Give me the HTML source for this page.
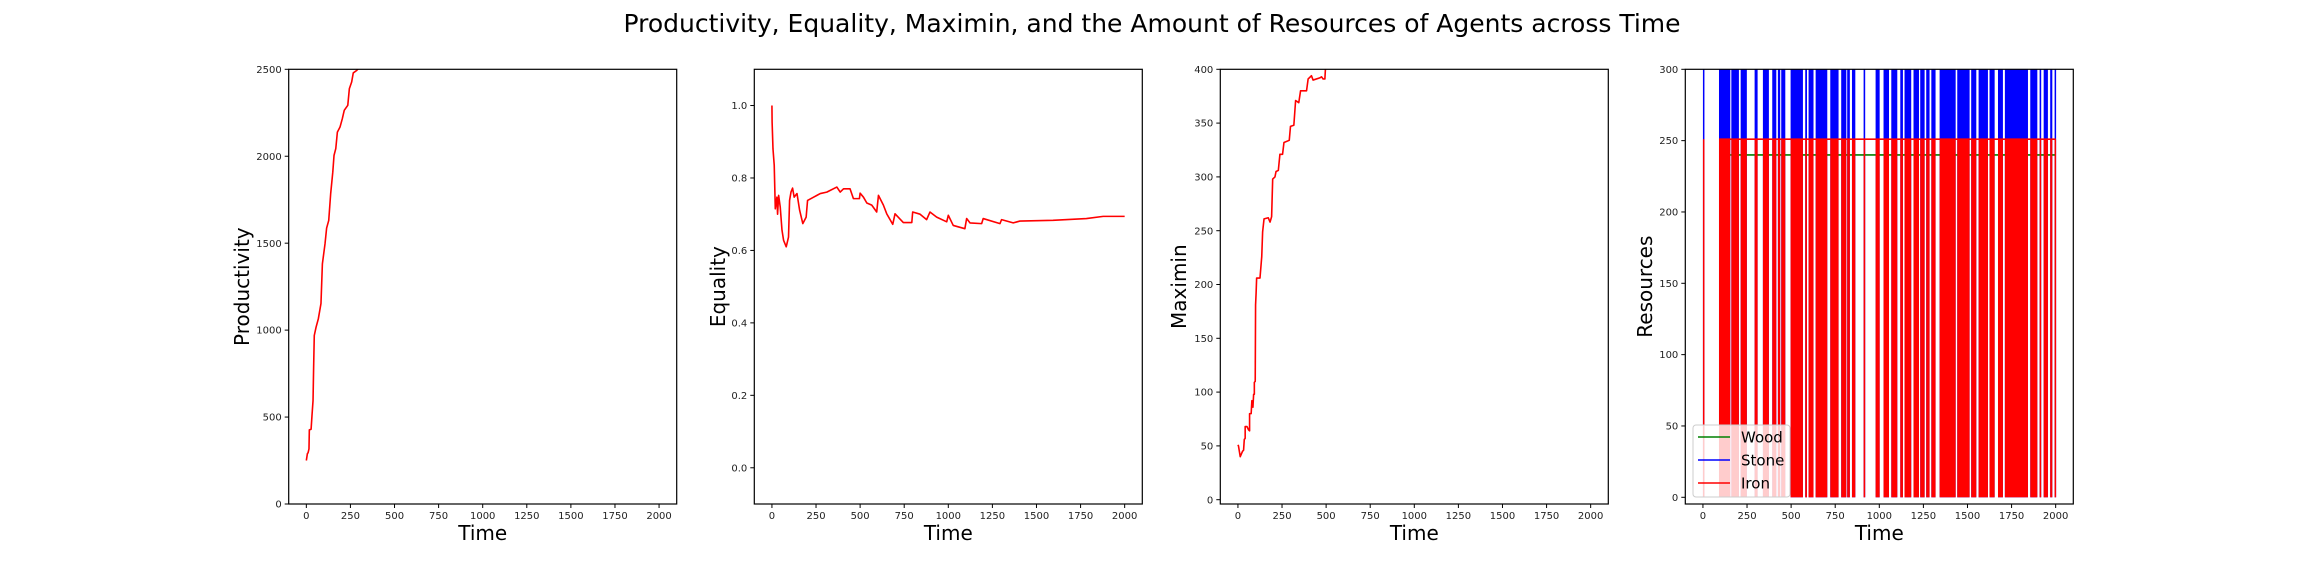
<!DOCTYPE html>
<html><head><meta charset="utf-8"><style>
body{margin:0;background:#fff}
svg{display:block;font-family:"DejaVu Sans","Liberation Sans",sans-serif}
</style></head><body>
<svg id="fig" width="2304" height="576" viewBox="0 0 2304 576" xmlns="http://www.w3.org/2000/svg">
<rect width="2304" height="576" fill="#fff"/>
<text x="1152" y="32" text-anchor="middle" font-size="25" fill="#000">Productivity, Equality, Maximin, and the Amount of Resources of Agents across Time</text>
</svg>
<script>
const xTicks = [0,250,500,750,1000,1250,1500,1750,2000];
const prodTime = [0,6,10,15,17,27,32,38,41,45,55,68,83,91,106,115,127,138,150,157,167,176,191,204,215,235,244,257,266,286,300];
const prodValue = [250,290,295,317,426,430,508,595,767,969,1016,1065,1153,1381,1497,1587,1631,1785,1909,2005,2044,2139,2168,2216,2264,2293,2389,2427,2479,2494,2510];
const prodYTicks = [0,500,1000,1500,2000,2500];
const eqTime = [0,1,6,13,19,28,32,38,47,57,66,81,94,100,108,117,126,142,157,175,194,202,236,255,274,311,368,387,406,443,462,496,500,519,538,566,594,604,632,651,685,698,745,793,798,840,877,896,934,991,1000,1028,1094,1104,1123,1189,1198,1293,1302,1368,1406,1594,1783,1878,2000];
const eqValue = [1.0,0.954,0.88,0.835,0.715,0.747,0.70,0.752,0.72,0.656,0.628,0.61,0.637,0.738,0.761,0.772,0.747,0.757,0.711,0.674,0.692,0.738,0.747,0.752,0.757,0.761,0.775,0.761,0.77,0.77,0.743,0.743,0.758,0.747,0.731,0.725,0.706,0.752,0.725,0.701,0.672,0.701,0.677,0.677,0.706,0.70,0.685,0.706,0.692,0.679,0.697,0.669,0.66,0.688,0.676,0.674,0.688,0.674,0.685,0.676,0.681,0.683,0.688,0.694,0.694];
const eqYTicks = [0.0,0.2,0.4,0.6,0.8,1.0];
const maxTime = [0,3,13,26,32,36,41,41,51,60,66,66,75,79,85,89,93,93,98,100,103,106,125,135,140,148,172,182,191,197,210,216,229,238,253,261,291,298,317,327,345,355,389,398,417,426,464,474,483,493,496,498];
const maxValue = [51,50,40,45,46,56,57,68,68,65,64,80,80,92,86,98,98,109,110,181,192,206,206,226,249,261,262,258,263,298,300,305,306,321,321,332,334,347,348,371,369,380,380,391,394,390,392,393,391,391,400,406];
const maxYTicks = [0,50,100,150,200,250,300,350,400];
const resYTicks = [0,50,100,150,200,250,300];
const burstStart = [0,91,161,214,293,340,393,425,444,497,580,599,639,722,784,818,845,911,979,1024,1068,1119,1143,1194,1232,1266,1295,1342,1442,1521,1563,1625,1673,1712,1856,1909,1932,1969,1994];
const burstEnd = [2,155,204,249,310,374,416,438,467,567,590,627,705,769,813,833,864,920,1002,1055,1102,1134,1181,1225,1257,1285,1319,1433,1512,1550,1616,1654,1701,1843,1896,1918,1956,1981,2000];
const ironLevel = 251;
const woodLevel = 240;
const stoneHigh = 320;
const woodStart = 155;
const ironStart = 91;

const NS = 'http://www.w3.org/2000/svg';
const svg = document.getElementById('fig');
function mk(tag, attrs, parent){
  const e = document.createElementNS(NS, tag);
  for (const k in attrs) e.setAttribute(k, attrs[k]);
  (parent||svg).appendChild(e);
  return e;
}
const TOP = 69.3, BOT = 504, W = 388;
function makeAxes(idx, left, ymin, ymax, yTicks, yFmt, ylabel, ylabelX){
  const g = mk('g', {});
  
  
  const sx = t => left + (t + 100) / 2200 * W;
  const sy = v => BOT - (v - ymin) / (ymax - ymin) * (BOT - TOP);
  const cid = 'clip' + idx;
  const cp = mk('clipPath', {id: cid}, g);
  mk('rect', {x: left, y: TOP, width: W, height: BOT - TOP}, cp);
  const plot = mk('g', {'clip-path': 'url(#' + cid + ')'}, g);
  
  
  xTicks.forEach(t => {
    const x = sx(t);
    mk('line', {x1: x, x2: x, y1: BOT, y2: BOT + 4, stroke: '#000', 'stroke-width': 1}, g);
    const tx = mk('text', {x: x, y: BOT + 15, 'text-anchor': 'middle', 'font-size': 10, fill: '#222'}, g);
    
    
    tx.textContent = t;
  });
  yTicks.forEach(v => {
    const y = sy(v);
    mk('line', {x1: left - 4, x2: left, y1: y, y2: y, stroke: '#000', 'stroke-width': 1}, g);
    const ty = mk('text', {x: left - 7, y: y + 3.6, 'text-anchor': 'end', 'font-size': 10, fill: '#222'}, g);
    
    
    ty.textContent = yFmt(v);
  });
  const xl = mk('text', {x: left + W / 2, y: 540, 'text-anchor': 'middle', 'font-size': 20, fill: '#000'}, g);
  
  
  xl.textContent = 'Time';
  const yc = (TOP + BOT) / 2;
  const yl = mk('text', {x: ylabelX, y: yc, 'text-anchor': 'middle', 'font-size': 20, fill: '#000', transform: 'rotate(-90 ' + ylabelX + ' ' + yc + ')'}, g);
  
  
  yl.textContent = ylabel;
  return {g, plot, sx, sy, left};
}
function frame(ax){
  const f = mk('rect', {x: ax.left, y: TOP, width: W, height: BOT - TOP, fill: 'none', stroke: '#000', 'stroke-width': 1.2}, ax.g);
  
  
}
function line(ax, ts, vs, color, name){
  const p = mk('polyline', {points: ts.map((t, i) => ax.sx(t) + ',' + ax.sy(vs[i])).join(' '), fill: 'none', stroke: color, 'stroke-width': 1.6, 'stroke-linejoin': 'round'}, ax.plot);
  
  
}

const a1 = makeAxes(1, 288.7, 0, 2500, prodYTicks, v => v, 'Productivity', 249);
line(a1, prodTime, prodValue, '#ff0000', 'productivity-line');
frame(a1);

const a2 = makeAxes(2, 754.3, -0.1, 1.1, eqYTicks, v => v.toFixed(1), 'Equality', 725);
line(a2, eqTime, eqValue, '#ff0000', 'equality-line');
frame(a2);

const a3 = makeAxes(3, 1220.3, -4, 400, maxYTicks, v => v, 'Maximin', 1186);
line(a3, maxTime, maxValue, '#ff0000', 'maximin-line');
frame(a3);

const a4 = makeAxes(4, 1685.3, -4.7, 300, resYTicks, v => v, 'Resources', 1652);
burstStart.forEach((s, i) => {
  const r = mk('rect', {x: a4.sx(s), y: a4.sy(stoneHigh), width: Math.max(1.5, a4.sx(burstEnd[i]) - a4.sx(s)), height: a4.sy(0) - a4.sy(stoneHigh), fill: '#0000ff'}, a4.plot);
  
  
});
line(a4, [woodStart, 2000], [woodLevel, woodLevel], '#008000', 'wood-line');
line(a4, [ironStart, 2000], [ironLevel, ironLevel], '#ff0000', 'iron-level-line');
burstStart.forEach((s, i) => {
  const r = mk('rect', {x: a4.sx(s), y: a4.sy(ironLevel), width: Math.max(1.5, a4.sx(burstEnd[i]) - a4.sx(s)), height: a4.sy(0) - a4.sy(ironLevel), fill: '#ff0000'}, a4.plot);
  
  
});
frame(a4);
const lg = mk('g', {});


mk('rect', {x: 1693, y: 425, width: 97, height: 72, rx: 3, fill: 'rgba(255,255,255,0.8)', stroke: '#ccc'}, lg);
[['Wood', '#008000'], ['Stone', '#0000ff'], ['Iron', '#ff0000']].forEach((e, i) => {
  const y = 437 + i * 23;
  const eg = mk('g', {}, lg);
  
  
  mk('line', {x1: 1698, x2: 1730, y1: y, y2: y, stroke: e[1], 'stroke-width': 1.6}, eg);
  const t = mk('text', {x: 1741, y: y + 5.5, 'font-size': 15, fill: '#000'}, eg);
  t.textContent = e[0];
});
</script>
</body></html>
